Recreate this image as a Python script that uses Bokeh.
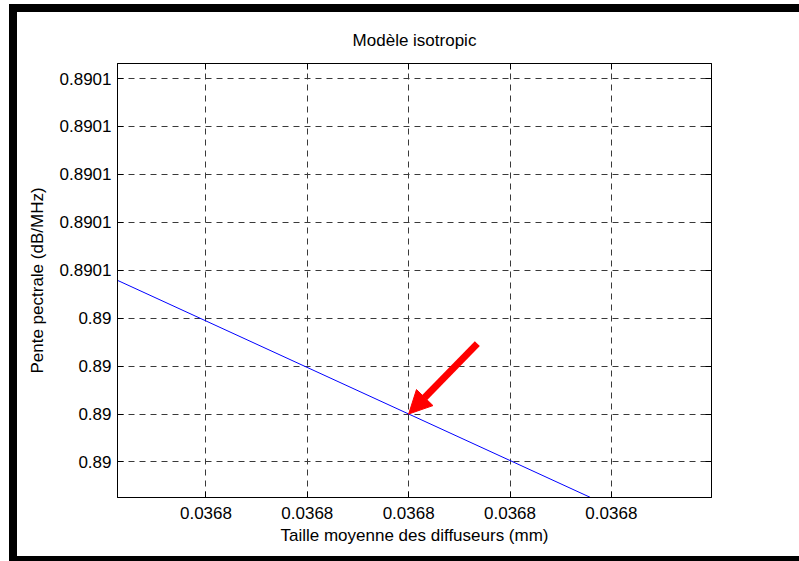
from bokeh.plotting import figure
from bokeh.models import Range1d, FixedTicker, LinearAxis, Arrow, NormalHead
from bokeh.embed import file_html
from bokeh.resources import INLINE

# ---- text ----
title_text = "Modèle isotropic"
x_label = "Taille moyenne des diffuseurs (mm)"
y_label = "Pente pectrale (dB/MHz)"

# ---- ticks (values are read/estimated; labels as displayed) ----
x_ticks = [0.0368010, 0.0368011, 0.0368012, 0.0368013, 0.0368014]
x_tick_labels = ["0.0368", "0.0368", "0.0368", "0.0368", "0.0368"]
y_ticks = [0.890046, 0.890047, 0.890048, 0.890049, 0.890050,
           0.890051, 0.890052, 0.890053, 0.890054]
y_tick_labels = ["0.89", "0.89", "0.89", "0.89", "0.8901",
                 "0.8901", "0.8901", "0.8901", "0.8901"]

# ---- axis limits ----
x_limits = [0.03680091272, 0.03680149882]
y_limits = [0.890045259, 0.8900543131]

# ---- series ----
line_x = [0.03680091272, 0.0368013795]
line_y = [0.8900497891, 0.890045259]

# ---- arrow (tail -> tip) ----
arrow_x = [0.03680126775, 0.0368012]
arrow_y = [0.890048468, 0.890047]

FONT = "Liberation Sans"
FS = "17px"

p = figure(width=782, height=544, output_backend="svg", toolbar_location=None,
           x_range=Range1d(*x_limits), y_range=Range1d(*y_limits),
           min_border_left=100, min_border_right=88, min_border_top=51,
           min_border_bottom=59, title=title_text,
           background_fill_color="white", border_fill_color="white")

# window frame: thick black band on the left, top and bottom of the figure
p.margin = (12, 0, 0, 17)
p.styles = {"overflow": "hidden",
            "box-shadow": ("-8px 0 0 0 black, 0 -8px 0 0 black, 0 8px 0 0 black, "
                           "-8px -8px 0 0 black, -8px 8px 0 0 black")}

p.outline_line_color = "black"
p.outline_line_width = 1

p.title.align = "center"
p.title.text_font = FONT
p.title.text_font_size = FS
p.title.text_font_style = "normal"
p.title.text_color = "black"
p.title.standoff = 27

xt = FixedTicker(ticks=x_ticks, minor_ticks=[])
yt = FixedTicker(ticks=y_ticks, minor_ticks=[])

for ax, tk, ticks, labels, lab in [(p.xaxis[0], xt, x_ticks, x_tick_labels, x_label),
                                   (p.yaxis[0], yt, y_ticks, y_tick_labels, y_label)]:
    ax.ticker = tk
    ax.major_label_overrides = {t: l for t, l in zip(ticks, labels)}
    ax.major_tick_in = 6
    ax.major_tick_out = 0
    ax.minor_tick_line_color = None
    ax.major_tick_line_color = "black"
    ax.axis_line_color = "black"
    ax.major_label_text_font = FONT
    ax.major_label_text_font_size = FS
    ax.major_label_text_color = "black"
    ax.axis_label = lab
    ax.axis_label_text_font = FONT
    ax.axis_label_text_font_size = FS
    ax.axis_label_text_font_style = "normal"
    ax.axis_label_text_color = "black"

p.xaxis[0].major_label_standoff = 9
p.xaxis[0].axis_label_standoff = 4
p.yaxis[0].major_label_standoff = 6
p.yaxis[0].axis_label_standoff = 10

# top / right tick-only axes (ticks pointing inward)
for loc, tk, ticks in [("above", xt, x_ticks), ("right", yt, y_ticks)]:
    a = LinearAxis(ticker=tk, major_tick_in=6, major_tick_out=0,
                   major_label_standoff=0, major_label_text_font_size="0px",
                   major_label_overrides={t: "" for t in ticks},
                   minor_tick_line_color=None, axis_line_color="black",
                   major_tick_line_color="black")
    p.add_layout(a, loc)

for g, tk in [(p.xgrid[0], xt), (p.ygrid[0], yt)]:
    g.ticker = tk
    g.grid_line_color = "#3a3a3a"
    g.grid_line_dash = "6 5"
    g.grid_line_width = 1

p.line(line_x, line_y, line_color="#0000ff", line_width=1)

p.add_layout(Arrow(end=NormalHead(size=23, fill_color="#ff0000", line_color="#ff0000", line_width=1),
                   x_start=arrow_x[0], y_start=arrow_y[0], x_end=arrow_x[1], y_end=arrow_y[1],
                   line_color="#ff0000", line_width=7))

open("out.html", "w").write(file_html(p, INLINE))
